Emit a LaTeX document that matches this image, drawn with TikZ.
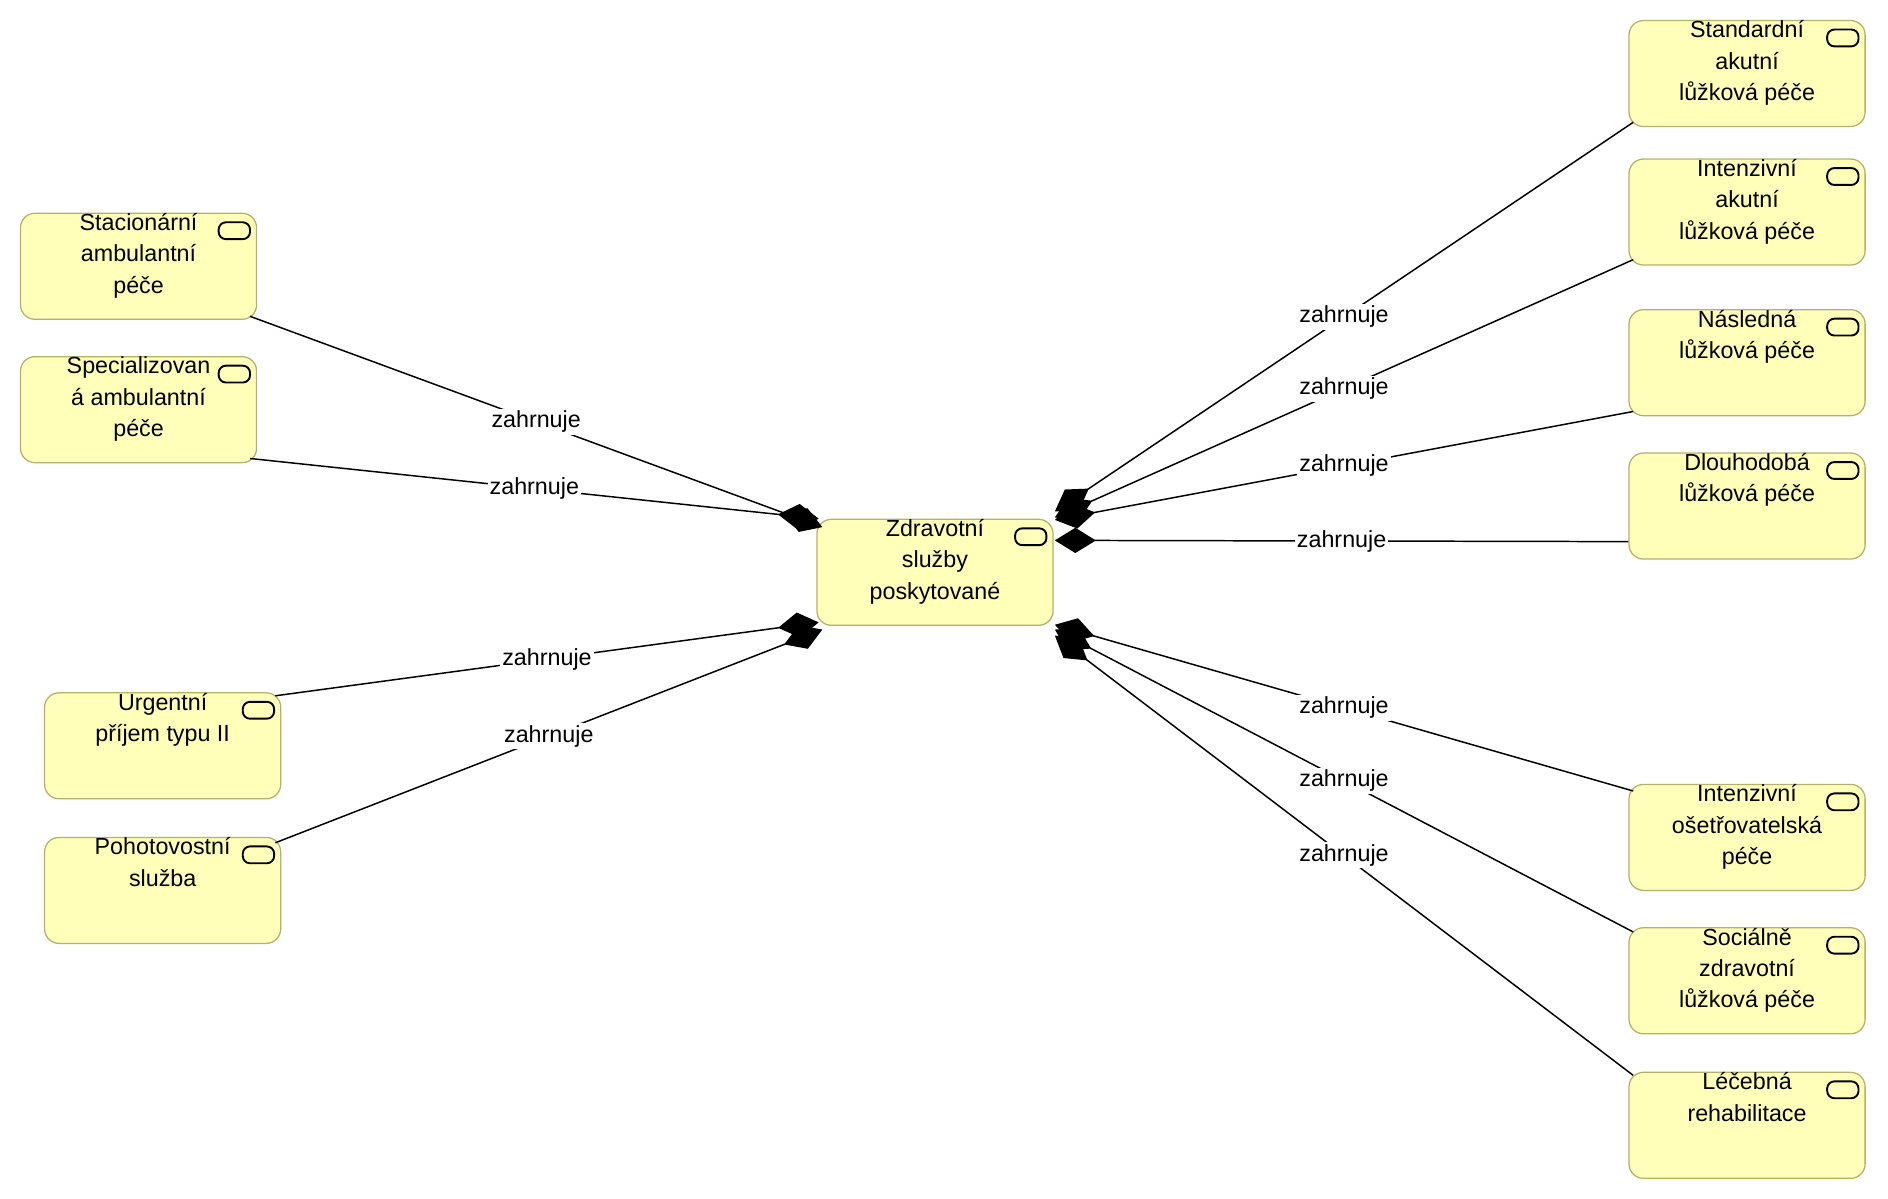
\documentclass[tikz,border=0pt]{standalone}
\usepackage{fontspec}
\setmainfont{Liberation Sans}
\usetikzlibrary{arrows.meta,calc}
\tikzset{
  box/.style={draw={rgb,255:red,178;green,178;blue,110},fill={rgb,255:red,255;green,255;blue,186},rounded corners=0.24cm,minimum width=3.92cm,minimum height=1.76cm,inner sep=0pt,line width=0.6pt},
  txt/.style={anchor=north,align=center,inner sep=0pt,font=\fontsize{11}{14.8}\selectfont},
  rel/.style={line width=0.7pt,{Diamond[length=0.68cm,width=0.42cm]}-},
  lab/.style={fill=white,inner sep=1pt,font=\fontsize{11}{13}\selectfont}
}
\newcommand{\mybox}[4]{%
  \node[box] (#1) at (#2,#3) {};
  \node[txt] (#1t) at ($(#1.north)+(0,0.34)$) {#4};
  \draw[line width=0.9pt,rounded corners=0.12cm] ($(#1.north east)+(-32,8)$) rectangle ($(#1.north east)+(-6,22)$);
}
\begin{document}
\begin{tikzpicture}[x=0.02cm,y=-0.02cm]
\useasboundingbox (0,0) rectangle (1567,995);
\mybox{c}{776}{475}{Zdravotní\\služby\\poskytované}
\mybox{a1}{115}{221}{Stacionární\\ambulantní\\péče}
\mybox{a2}{115}{340}{Specializovan\\á ambulantní\\péče}
\mybox{a3}{135}{619}{Urgentní\\příjem typu II}
\mybox{a4}{135}{739}{Pohotovostní\\služba}
\mybox{b1}{1450}{61}{Standardní\\akutní\\lůžková péče}
\mybox{b2}{1450}{176}{Intenzivní\\akutní\\lůžková péče}
\mybox{b3}{1450}{301}{Následná\\lůžková péče}
\mybox{b4}{1450}{420}{Dlouhodobá\\lůžková péče}
\mybox{b5}{1450}{695}{Intenzivní\\ošetřovatelská\\péče}
\mybox{b6}{1450}{814}{Sociálně\\zdravotní\\lůžková péče}
\mybox{b7}{1450}{934}{Léčebná\\rehabilitace}
\draw[rel] ($(c.north west)+(5,7)$) -- node[lab]{zahrnuje} ($(a1.south east)+(-6,-3)$);
\draw[rel] ($(c.north west)+(2,0)$) -- node[lab]{zahrnuje} ($(a2.south east)+(-6,-4)$);
\draw[rel] ($(c.south west)+(2,-3)$) -- node[lab]{zahrnuje} ($(a3.north east)+(-5,3)$);
\draw[rel] ($(c.south west)+(5,3)$) -- node[lab]{zahrnuje} ($(a4.north east)+(-5,5)$);
\draw[rel] ($(c.north east)+(1,-6)$) -- node[lab]{zahrnuje} ($(b1.south west)+(4,-4)$);
\draw[rel] ($(c.north east)+(1,-1)$) -- node[lab]{zahrnuje} ($(b2.south west)+(4,-5)$);
\draw[rel] ($(c.north east)+(1,1)$) -- node[lab]{zahrnuje} ($(b3.south west)+(4,-4)$);
\draw[rel] ($(c.north east)+(1,18)$) -- node[lab]{zahrnuje} ($(b4.south west)+(0,-15)$);
\draw[rel] ($(c.south east)+(1,-1)$) -- node[lab]{zahrnuje} ($(b5.north west)+(4,6)$);
\draw[rel] ($(c.south east)+(1,3)$) -- node[lab]{zahrnuje} ($(b6.north west)+(4,4)$);
\draw[rel] ($(c.south east)+(1,8)$) -- node[lab]{zahrnuje} ($(b7.north west)+(4,3)$);
\end{tikzpicture}
\end{document}
